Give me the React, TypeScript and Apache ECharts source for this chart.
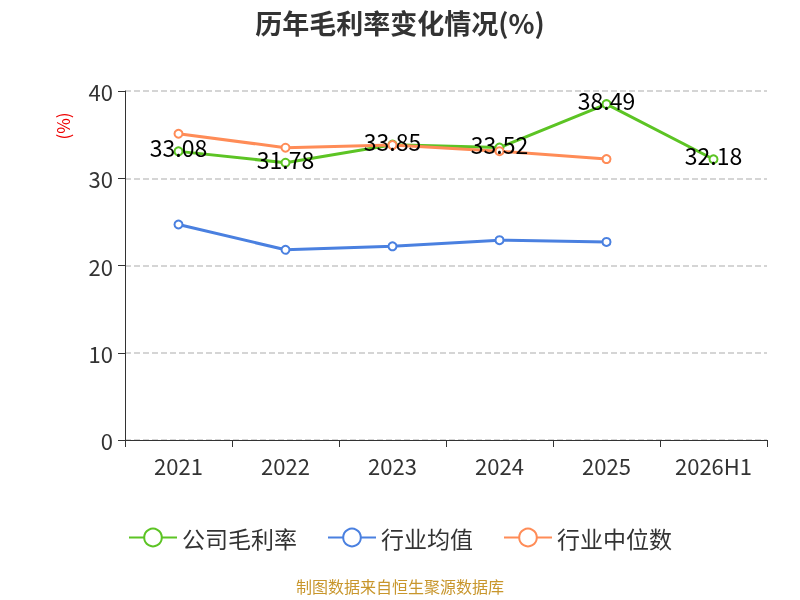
import { useEffect, useRef } from "react";
import * as echarts from "echarts";

const years = ["2021", "2022", "2023", "2024", "2025", "2026H1"];
const companyMargin = [33.08, 31.78, 33.85, 33.52, 38.49, 32.18];
const industryAvg = [24.7, 21.8, 22.2, 22.9, 22.7, null];
const industryMedian = [35.1, 33.5, 33.8, 33.1, 32.2, null];

const App = () => {
  const ref = useRef<HTMLDivElement | null>(null);

  useEffect(() => {
    if (!ref.current) return;
    const chart = echarts.init(ref.current, null, { renderer: "svg" });
    const font = "'Noto Sans CJK SC', 'Noto Sans', sans-serif";

    const lineSeries = (name: string, data: (number | null)[], color: string, showLabel: boolean) => ({
      name,
      type: "line",
      data,
      symbol: "emptyCircle",
      symbolSize: 8,
      lineStyle: { width: 3, color },
      itemStyle: { color, borderWidth: 1.5 },
      label: showLabel
        ? { show: true, position: "inside", offset: [0, -4], color: "#000", fontSize: 23, fontFamily: font }
        : { show: false },
    });

    chart.setOption({
      animation: false,
      textStyle: { fontFamily: font },
      title: {
        text: "历年毛利率变化情况(%)",
        left: "center",
        top: 4,
        textStyle: { fontSize: 27, fontWeight: "bold", color: "#333", fontFamily: font },
      },
      legend: {
        bottom: 46,
        left: "center",
        itemWidth: 48,
        itemHeight: 22,
        itemGap: 30,
        textStyle: { fontSize: 23, color: "#333", fontFamily: font },
        data: ["公司毛利率", "行业均值", "行业中位数"],
      },
      grid: { left: 125, right: 33, top: 91, bottom: 160 },
      xAxis: {
        type: "category",
        data: years,
        axisLine: { lineStyle: { color: "#333" } },
        axisTick: { show: true, alignWithLabel: false, length: 7, lineStyle: { color: "#333" } },
        axisLabel: { fontSize: 22, color: "#333", margin: 14 },
      },
      yAxis: {
        type: "value",
        min: 0,
        max: 40,
        interval: 10,
        axisLine: { show: true, lineStyle: { color: "#333" } },
        axisTick: { show: true, length: 7, lineStyle: { color: "#333" } },
        axisLabel: { fontSize: 22, color: "#333", margin: 12 },
        splitLine: { lineStyle: { type: "dashed", color: "#c8c8c8", width: 1.5 } },
      },
      graphic: [
        {
          type: "text",
          x: 62,
          y: 126,
          rotation: Math.PI / 2,
          style: { text: "(%)", fill: "#e00", fontSize: 17, fontFamily: font, align: "center", verticalAlign: "middle" },
        },
        {
          type: "text",
          left: "center",
          top: 578,
          style: { text: "制图数据来自恒生聚源数据库", fill: "#c8962c", fontSize: 16, fontFamily: font },
        },
      ],
      series: [
        lineSeries("公司毛利率", companyMargin, "#5cc424", true),
        lineSeries("行业均值", industryAvg, "#4a80e0", false),
        lineSeries("行业中位数", industryMedian, "#ff8c57", false),
      ],
    });

    return () => chart.dispose();
  }, []);

  return <div ref={ref} style={{ position: "fixed", left: 0, top: 0, width: 800, height: 600 }} />;
};

export default App;
